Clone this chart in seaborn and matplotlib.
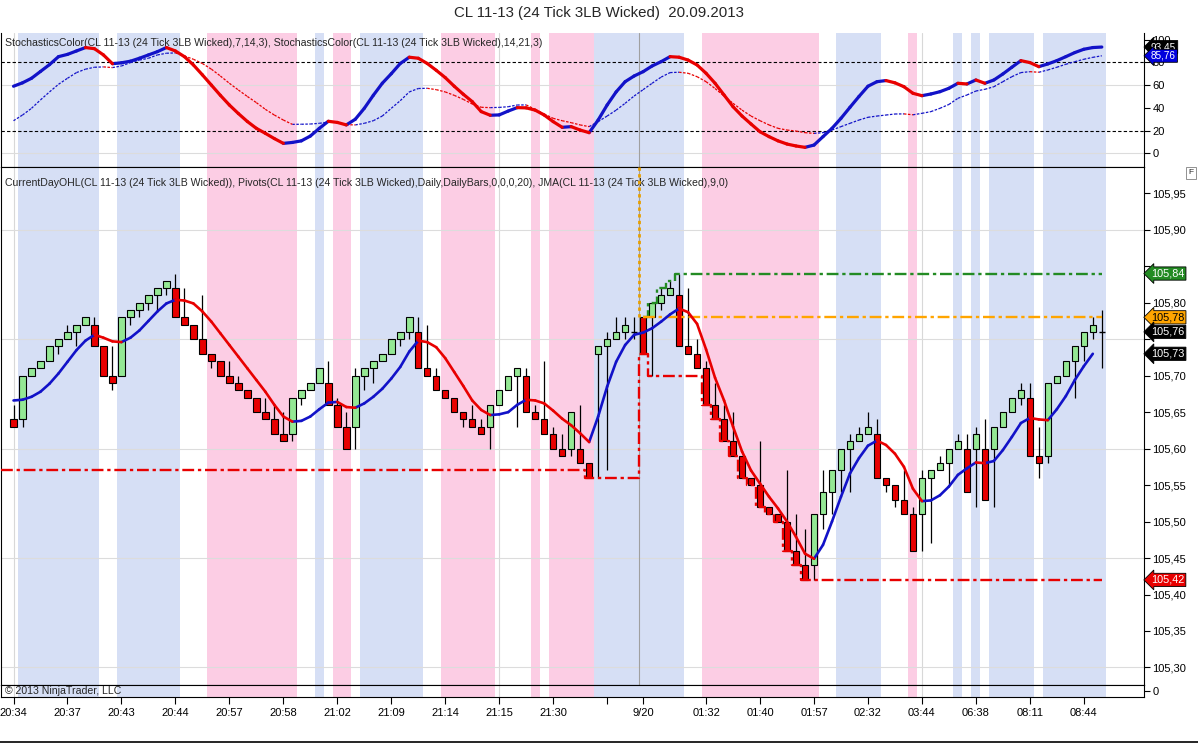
import numpy as np
import pandas as pd
import seaborn as sns
import matplotlib
matplotlib.use("Agg")
import matplotlib.pyplot as plt
from matplotlib.lines import Line2D

# ---- data (one entry per 3LB bar) ----
opens = [105.64, 105.64, 105.70, 105.71, 105.72, 105.74, 105.75, 105.76, 105.77, 105.77,
         105.74, 105.70, 105.70, 105.78, 105.79, 105.80, 105.81, 105.82, 105.82, 105.78,
         105.77, 105.75, 105.73, 105.72, 105.70, 105.69, 105.68, 105.67, 105.65, 105.64,
         105.62, 105.62, 105.67, 105.68, 105.69, 105.69, 105.66, 105.63, 105.63, 105.70,
         105.71, 105.72, 105.73, 105.75, 105.76, 105.76, 105.71, 105.70, 105.68, 105.67,
         105.65, 105.64, 105.63, 105.63, 105.66, 105.68, 105.70, 105.70, 105.65, 105.64,
         105.62, 105.60, 105.60, 105.60, 105.58, 105.73, 105.74, 105.75, 105.76, 105.76,
         105.78, 105.78, 105.80, 105.81, 105.81, 105.74, 105.73, 105.71, 105.66, 105.64,
         105.61, 105.59, 105.56, 105.55, 105.52, 105.51, 105.50, 105.46, 105.44, 105.44,
         105.51, 105.54, 105.57, 105.60, 105.61, 105.62, 105.62, 105.56, 105.55, 105.53,
         105.51, 105.51, 105.56, 105.57, 105.58, 105.60, 105.60, 105.60, 105.60, 105.60,
         105.63, 105.65, 105.67, 105.67, 105.59, 105.59, 105.69, 105.70, 105.72, 105.74,
         105.76, 105.76]
highs = [105.66, 105.70, 105.71, 105.72, 105.74, 105.75, 105.77, 105.77, 105.78, 105.78,
         105.74, 105.74, 105.78, 105.79, 105.80, 105.81, 105.82, 105.83, 105.84, 105.82,
         105.77, 105.81, 105.73, 105.72, 105.72, 105.70, 105.68, 105.67, 105.67, 105.66,
         105.65, 105.67, 105.68, 105.69, 105.71, 105.72, 105.67, 105.65, 105.71, 105.71,
         105.72, 105.73, 105.75, 105.76, 105.78, 105.78, 105.77, 105.71, 105.68, 105.67,
         105.65, 105.66, 105.64, 105.66, 105.68, 105.70, 105.71, 105.71, 105.66, 105.72,
         105.63, 105.62, 105.65, 105.66, 105.58, 105.74, 105.76, 105.78, 105.78, 105.78,
         105.78, 105.80, 105.82, 105.83, 105.84, 105.82, 105.75, 105.72, 105.69, 105.66,
         105.65, 105.59, 105.56, 105.61, 105.52, 105.51, 105.57, 105.51, 105.49, 105.51,
         105.57, 105.57, 105.60, 105.62, 105.63, 105.65, 105.64, 105.56, 105.55, 105.57,
         105.52, 105.57, 105.57, 105.59, 105.60, 105.62, 105.62, 105.63, 105.64, 105.63,
         105.65, 105.67, 105.69, 105.69, 105.63, 105.69, 105.70, 105.72, 105.74, 105.76,
         105.78, 105.79]
lows = [105.63, 105.63, 105.70, 105.71, 105.72, 105.73, 105.75, 105.74, 105.77, 105.74,
        105.70, 105.68, 105.70, 105.77, 105.78, 105.79, 105.79, 105.81, 105.78, 105.77,
        105.75, 105.73, 105.71, 105.70, 105.69, 105.68, 105.67, 105.65, 105.64, 105.62,
        105.61, 105.61, 105.66, 105.68, 105.69, 105.66, 105.63, 105.60, 105.60, 105.68,
        105.69, 105.72, 105.73, 105.74, 105.75, 105.71, 105.70, 105.68, 105.67, 105.65,
        105.63, 105.63, 105.62, 105.60, 105.66, 105.68, 105.63, 105.65, 105.64, 105.62,
        105.60, 105.59, 105.59, 105.58, 105.56, 105.56, 105.57, 105.75, 105.75, 105.75,
        105.73, 105.70, 105.79, 105.81, 105.74, 105.73, 105.71, 105.66, 105.64, 105.61,
        105.59, 105.56, 105.55, 105.52, 105.51, 105.50, 105.46, 105.44, 105.42, 105.42,
        105.49, 105.51, 105.54, 105.54, 105.61, 105.62, 105.56, 105.54, 105.52, 105.51,
        105.46, 105.46, 105.47, 105.57, 105.55, 105.60, 105.54, 105.52, 105.53, 105.52,
        105.63, 105.65, 105.66, 105.59, 105.56, 105.58, 105.69, 105.70, 105.67, 105.72,
        105.75, 105.71]
closes = [105.63, 105.70, 105.71, 105.72, 105.74, 105.75, 105.76, 105.77, 105.78, 105.74,
          105.70, 105.69, 105.78, 105.79, 105.80, 105.81, 105.82, 105.83, 105.78, 105.77,
          105.75, 105.73, 105.72, 105.70, 105.69, 105.68, 105.67, 105.65, 105.64, 105.62,
          105.61, 105.67, 105.68, 105.69, 105.71, 105.66, 105.63, 105.60, 105.70, 105.71,
          105.72, 105.73, 105.75, 105.76, 105.78, 105.71, 105.70, 105.68, 105.67, 105.65,
          105.64, 105.63, 105.62, 105.66, 105.68, 105.70, 105.71, 105.65, 105.64, 105.62,
          105.60, 105.59, 105.65, 105.58, 105.56, 105.74, 105.75, 105.76, 105.77, 105.76,
          105.73, 105.80, 105.81, 105.82, 105.74, 105.73, 105.71, 105.66, 105.64, 105.61,
          105.59, 105.56, 105.55, 105.52, 105.51, 105.50, 105.46, 105.44, 105.42, 105.51,
          105.54, 105.57, 105.60, 105.61, 105.62, 105.63, 105.56, 105.55, 105.53, 105.51,
          105.46, 105.56, 105.57, 105.58, 105.60, 105.61, 105.54, 105.62, 105.53, 105.63,
          105.65, 105.67, 105.68, 105.59, 105.58, 105.69, 105.70, 105.72, 105.74, 105.76,
          105.77, 105.76]

jma = [105.666, 105.667, 105.671, 105.678, 105.689, 105.703, 105.719, 105.735, 105.748, 105.756,
       105.752, 105.747, 105.746, 105.752, 105.762, 105.775, 105.788, 105.799, 105.804, 105.803,
       105.799, 105.788, 105.774, 105.758, 105.742, 105.726, 105.710, 105.694, 105.678, 105.660,
       105.644, 105.637, 105.638, 105.644, 105.654, 105.663, 105.664, 105.657, 105.656, 105.662,
       105.671, 105.682, 105.696, 105.712, 105.733, 105.748, 105.746, 105.739, 105.724, 105.705,
       105.686, 105.666, 105.653, 105.646, 105.647, 105.650, 105.660, 105.667, 105.666, 105.662,
       105.652, 105.641, 105.632, 105.621, 105.609, 105.644, 105.685, 105.719, 105.742, 105.756,
       105.759, 105.765, 105.774, 105.784, 105.792, 105.787, 105.771, 105.736, 105.697, 105.666,
       105.630, 105.596, 105.570, 105.552, 105.534, 105.518, 105.500, 105.479, 105.456, 105.449,
       105.468, 105.500, 105.534, 105.566, 105.587, 105.604, 105.611, 105.605, 105.593, 105.575,
       105.545, 105.528, 105.529, 105.536, 105.548, 105.564, 105.573, 105.581, 105.580, 105.583,
       105.598, 105.616, 105.635, 105.642, 105.640, 105.639, 105.654, 105.672, 105.694, 105.713,
       105.730, np.nan]

stoch_fast = [59, 62, 66, 72, 78, 85, 87, 90, 93, 92,
              86.5, 78.8, 79.6, 81, 83.6, 86.5, 89.4, 93, 90, 85,
              77.7, 69, 60, 51, 42.5, 35, 28, 22, 17.6, 13,
              8.8, 9.6, 11, 15.2, 22, 28.2, 27.2, 25, 30, 39.6,
              51, 61.6, 70, 79, 84.5, 83.6, 79, 73, 66.6, 59,
              52, 45.5, 36.7, 33.5, 33.8, 37.2, 40.2, 40.0, 38, 33.7,
              27.9, 22.9, 23.5, 20.5, 18.2, 29.3, 42.5, 54, 63, 68,
              71.8, 76.8, 80.6, 85, 84.5, 82, 77.7, 70.4, 61.6, 51.3,
              41, 32.8, 25.8, 19, 14.7, 11, 8.2, 6.5, 5.3, 7.3,
              14.7, 22, 30.8, 40.5, 50, 59, 63, 64, 62, 58.6,
              52.8, 50.7, 52.2, 54.2, 57.2, 61.6, 61, 64.5, 61.6, 64.5,
              69.8, 75.7, 81.5, 79.8, 76.2, 78.6, 81.5, 85, 88.6, 91.5,
              93, 93.45]
stoch_slow = [28.7, 33.7, 39.6, 47, 54, 60.7, 66, 71, 74, 75.7,
              76, 75.4, 76.8, 79.8, 82, 83.6, 86.5, 88, 88.3, 85.6,
              82.7, 79, 74, 68, 61.6, 55.7, 50, 44.6, 38.7, 33.7,
              29.3, 25.5, 25.6, 25.8, 26.4, 27.6, 27.3, 25.2, 25, 26.4,
              28.7, 32.8, 39.6, 46.3, 54, 57, 57.2, 56, 54, 51,
              47.5, 43.4, 40.5, 40.2, 40.4, 41, 42.5, 42.6, 38.7, 34.6,
              30.8, 28.7, 27, 25, 23.5, 27.9, 32.8, 38, 44, 50.4,
              56, 61.6, 67, 71, 71.3, 70.4, 67.4, 63, 57, 50.4,
              44, 38, 32.8, 28.7, 25, 22, 20.5, 19.6, 18.2, 17.6,
              18.2, 20.5, 23.5, 26.4, 29.3, 31.7, 32.8, 33.7, 34.6, 34.7,
              33.9, 35.2, 36.7, 39.6, 43, 48.4, 51.3, 54.8, 56.3, 58.6,
              63, 67.4, 71, 71.8, 71.3, 73.3, 75.7, 78.3, 80.6, 82.7,
              84.4, 85.76]

# background bands (first bar, last bar)
blue_bands = [(1, 9), (12, 18), (34, 34), (39, 45), (65, 74), (92, 96),
              (105, 105), (107, 107), (109, 113), (115, 121)]
pink_bands = [(22, 31), (36, 37), (48, 53), (58, 58), (60, 64), (77, 89), (100, 100)]

# session pivots
day_start = 70
prev_day_low = 105.57

tick_bars = [0, 6, 12, 18, 24, 30, 36, 42, 48, 54, 60, 66, 70, 77, 83, 89, 95, 101, 107, 113, 119]
tick_labels = ["20:34", "20:37", "20:43", "20:44", "20:57", "20:58", "21:02", "21:09", "21:14",
               "21:15", "21:30", "", "9/20", "01:32", "01:40", "01:57", "02:32", "03:44",
               "06:38", "08:11", "08:44"]
price_ticks = [105.30, 105.35, 105.40, 105.45, 105.50, 105.55, 105.60, 105.65, 105.70,
               105.75, 105.80, 105.85, 105.90, 105.95]
price_grid = [105.30, 105.45, 105.60, 105.75, 105.90]
stoch_ticks = [0, 20, 40, 60, 80, 100]
grid_bars = [0, 54, 101]

title = "CL 11-13 (24 Tick 3LB Wicked)  20.09.2013"
stoch_header = ("StochasticsColor(CL 11-13 (24 Tick 3LB Wicked),7,14,3), "
                "StochasticsColor(CL 11-13 (24 Tick 3LB Wicked),14,21,3)")
price_header = ("CurrentDayOHL(CL 11-13 (24 Tick 3LB Wicked)), Pivots(CL 11-13 (24 Tick 3LB Wicked),"
                "Daily,DailyBars,0,0,0,20), JMA(CL 11-13 (24 Tick 3LB Wicked),9,0)")

# ---- styling ----
sns.set_theme(style="white")
plt.rcParams['font.family'] = ['Liberation Sans', 'DejaVu Sans']
plt.rcParams['axes.edgecolor'] = 'black'
plt.rcParams['axes.linewidth'] = 0.8

BLUE = '#1212c8'
RED = '#e80000'
BAND_BLUE = '#d6dff5'
BAND_PINK = '#fccde4'
pal = {'up': BLUE, 'down': RED}

n = len(opens)
bars = np.arange(n)
o = np.array(opens); h = np.array(highs); l = np.array(lows); c = np.array(closes)
x_left, x_right = -1.37, 125.7


def seg_frame(vals):
    vals = np.asarray(vals, dtype=float)
    rows = []
    for i in range(1, len(vals)):
        if np.isnan(vals[i]) or np.isnan(vals[i - 1]):
            continue
        d = 'up' if vals[i] >= vals[i - 1] else 'down'
        rows.append((i, i - 1, vals[i - 1], d))
        rows.append((i, i, vals[i], d))
    return pd.DataFrame(rows, columns=['seg', 'bar', 'val', 'dir'])


def fmt(v):
    return f"{v:.2f}".replace('.', ',')


def tag(ax, y, text, fc, tc='white', size=7.8):
    ax.text(1.006, y, text, transform=ax.get_yaxis_transform(), ha='left', va='center',
            fontsize=size, color=tc, zorder=20, clip_on=False,
            bbox=dict(boxstyle='larrow,pad=0.15', fc=fc, ec='black', lw=0.6))


fig = plt.figure(figsize=(11.98, 7.43), dpi=100)
ax_st = fig.add_axes([0.001, 0.7752, 0.954, 0.1804])
ax_pr = fig.add_axes([0.001, 0.0781, 0.954, 0.6971])
ax_bt = fig.add_axes([0.001, 0.0619, 0.954, 0.0162])

for ax in (ax_st, ax_pr, ax_bt):
    ax.set_xlim(x_left, x_right)
    for a, b in blue_bands:
        ax.axvspan(a - 0.5, b + 0.5, color=BAND_BLUE, lw=0, zorder=0)
    for a, b in pink_bands:
        ax.axvspan(a - 0.5, b + 0.5, color=BAND_PINK, lw=0, zorder=0)
    for gb in grid_bars:
        ax.axvline(gb, color='#d8d8d8', lw=0.8, zorder=0.5)
    ax.yaxis.tick_right()
    ax.tick_params(axis='y', direction='out', length=4, width=0.8, labelsize=8, pad=2,
                   right=True, colors='black')
    ax.tick_params(axis='x', bottom=False, labelbottom=False)
ax_st.spines['top'].set_visible(False)

# ---- stochastics panel ----
ax_st.set_ylim(-12.0, 105.8)
ax_st.set_yticks(stoch_ticks)
for g in (0, 60):
    ax_st.axhline(g, color='#dcdcdc', lw=0.8, zorder=0.5)
for lvl in (20, 80):
    ax_st.axhline(lvl, color='black', lw=0.8, ls=(0, (3, 2)), zorder=1)
ax_st.axvline(day_start - 0.5, color='#a0a0a0', lw=0.8, zorder=0.6)
sns.lineplot(data=seg_frame(stoch_slow), x='bar', y='val', hue='dir', units='seg',
             estimator=None, palette=pal, legend=False, lw=0.9, ls=(0, (2, 1.2)), ax=ax_st, zorder=3)
sns.lineplot(data=seg_frame(stoch_fast), x='bar', y='val', hue='dir', units='seg',
             estimator=None, palette=pal, legend=False, lw=2.3, ax=ax_st, zorder=4)
ax_st.set_xlabel(''); ax_st.set_ylabel('')
ax_st.text(0.003, 0.96, stoch_header, transform=ax_st.transAxes, ha='left', va='top', fontsize=7.6)
tag(ax_st, stoch_fast[-1], fmt(stoch_fast[-1]), 'black', size=7.2)
tag(ax_st, stoch_slow[-1], fmt(stoch_slow[-1]), '#0000dd', size=7.2)

# ---- price panel ----
last_jma = [v for v in jma if not np.isnan(v)][-1]
low_line = np.empty(n)
run = prev_day_low
for i in range(n):
    if i == day_start:
        run = l[i]
    run = min(run, l[i])
    low_line[i] = run
high_line = np.full(n, np.nan)
high_line[day_start:] = np.maximum.accumulate(h[day_start:])
open_line = np.full(n, np.nan)
open_line[day_start:] = o[day_start]
tag_vals = [high_line[-1], open_line[-1], c[-1], last_jma, low_line[-1]]

ax_pr.set_ylim(105.276, 105.986)
ax_pr.set_yticks(price_ticks)
# tick labels hidden under the value tags, as on the original
ax_pr.set_yticklabels(['' if min(abs(v - t) for t in tag_vals) < 0.015 else fmt(v)
                       for v in price_ticks])
for g in price_grid:
    ax_pr.axhline(g, color='#dcdcdc', lw=0.8, zorder=0.5)
ax_pr.axvline(day_start - 0.5, color='#a0a0a0', lw=0.8, zorder=0.6)

# candles
doji = np.isclose(o, c)
body_lo = np.minimum(o, c)
body_h = np.abs(c - o)
body_col = np.where(c > o, '#94e894', RED)
ax_pr.vlines(bars, l, h, color='black', lw=0.9, zorder=3)
ax_pr.bar(bars[~doji], body_h[~doji], bottom=body_lo[~doji], width=0.72,
          color=body_col[~doji], edgecolor='black', lw=0.8, zorder=4)
ax_pr.hlines(c[doji], bars[doji] - 0.36, bars[doji] + 0.36, color='black', lw=1.0, zorder=4)

# current day open / high / low lines
dashdot = (0, (5, 1.6, 1.4, 1.6))
sns.lineplot(x=np.r_[x_left, bars], y=np.r_[low_line[0], low_line], color=RED, lw=1.7,
             ls=dashdot, drawstyle='steps-mid', ax=ax_pr, zorder=5)
m = ~np.isnan(high_line)
sns.lineplot(x=bars[m], y=high_line[m], color='#238b23', lw=1.7, ls=dashdot,
             drawstyle='steps-mid', ax=ax_pr, zorder=5)
sns.lineplot(x=bars[m], y=open_line[m], color='#ffa500', lw=1.7, ls=dashdot,
             drawstyle='steps-mid', ax=ax_pr, zorder=5)
ax_pr.vlines(day_start - 0.5, o[day_start], ax_pr.get_ylim()[1], color='#e8a000', lw=2.0,
             ls=(0, (1.2, 1.2)), zorder=5)

# JMA
sns.lineplot(data=seg_frame(jma), x='bar', y='val', hue='dir', units='seg', estimator=None,
             palette=pal, legend=False, lw=1.9, ax=ax_pr, zorder=6)
ax_pr.set_xlabel(''); ax_pr.set_ylabel('')
ax_pr.text(0.003, 0.969, price_header, transform=ax_pr.transAxes, ha='left', va='center', fontsize=7.6)

tag(ax_pr, high_line[-1], fmt(high_line[-1]), '#238b23')
tag(ax_pr, open_line[-1], fmt(open_line[-1]), '#ffa500', 'black')
tag(ax_pr, c[-1], fmt(c[-1]), 'black')
tag(ax_pr, last_jma, fmt(last_jma), 'black')
tag(ax_pr, low_line[-1], fmt(low_line[-1]), RED)

# ---- bottom strip with time axis ----
ax_bt.set_ylim(-1, 1)
ax_bt.set_yticks([0])
ax_bt.set_yticklabels(['0'])
ax_bt.set_xticks(tick_bars)
ax_bt.set_xticklabels(tick_labels)
ax_bt.tick_params(axis='x', bottom=True, labelbottom=True, direction='out', length=5,
                  width=0.8, labelsize=8, pad=3, colors='black')
ax_bt.text(0.003, 0.5, "\u00a9 2013 NinjaTrader, LLC", transform=ax_bt.transAxes,
           ha='left', va='center', fontsize=7.6, zorder=10)

fig.text(0.5, 1 - 13 / 743, title, ha='center', va='center', fontsize=10.8)
fig.text(1191 / 1198, 1 - 173 / 743, "F", ha='center', va='center', fontsize=6,
         bbox=dict(boxstyle='square,pad=0.25', fc='white', ec='#808080', lw=0.6))
fig.add_artist(Line2D([0, 1], [0.002, 0.002], transform=fig.transFigure, color='black', lw=1.2))

fig.savefig("out.png", dpi=100)
